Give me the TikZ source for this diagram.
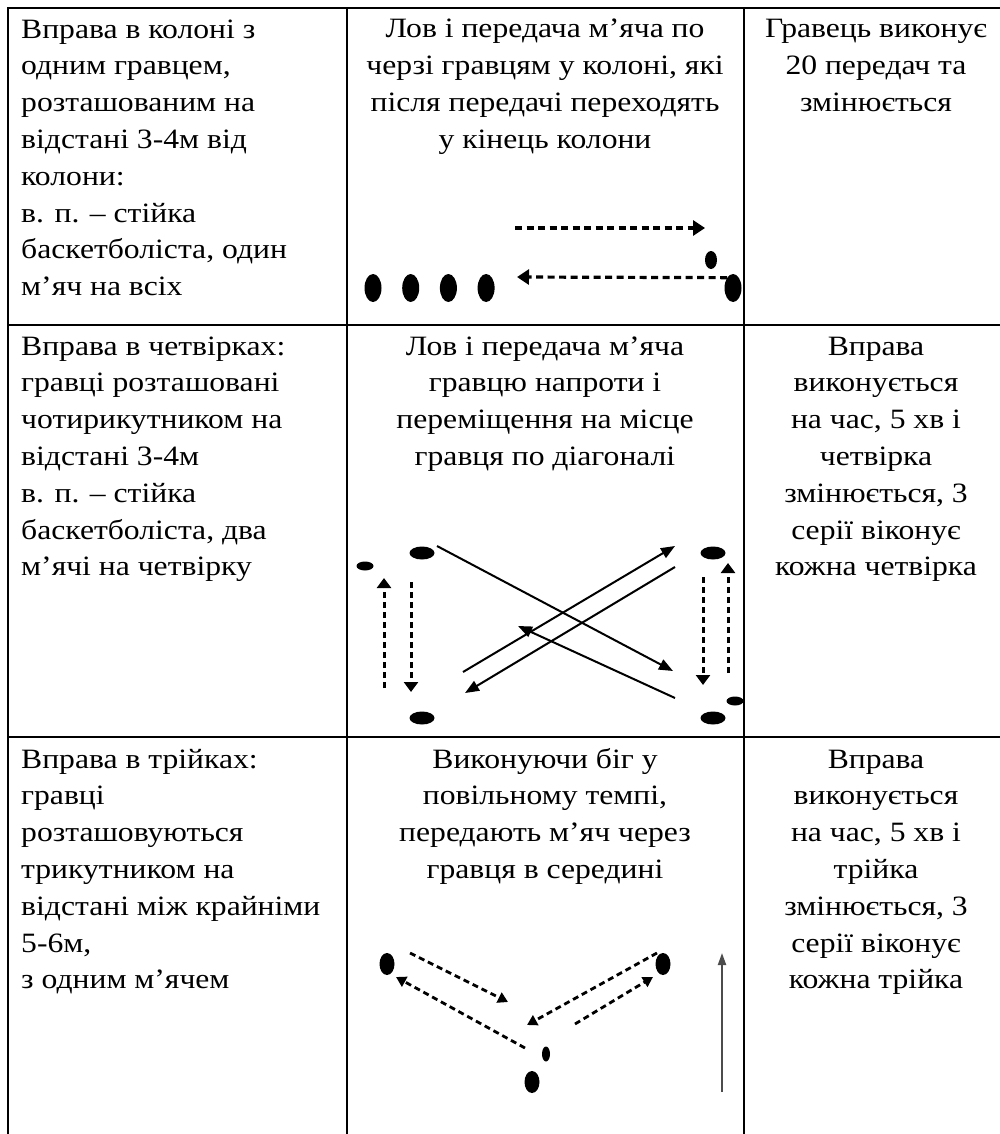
\documentclass[tikz,border=0pt]{standalone}
\usepackage{fontspec}
\setmainfont{Liberation Serif}[FakeStretch=1.13]
\usetikzlibrary{arrows.meta,shapes.geometric,positioning}

\begin{document}
\begin{tikzpicture}[x=1pt,y=-1pt,node distance=37.7pt,on grid,
    rule/.style={line width=2pt},
    cell/.style={inner sep=0pt,anchor=base,font=\fontsize{28}{36.8}\selectfont},
    player/.style={ellipse,fill=black,inner sep=0pt,minimum width=17pt,minimum height=28pt},
    ball/.style={ellipse,fill=black,inner sep=0pt,minimum width=12pt,minimum height=18pt},
    flat/.style={ellipse,fill=black,inner sep=0pt,minimum width=25pt,minimum height=13pt},
    flatball/.style={ellipse,fill=black,inner sep=0pt,minimum width=17pt,minimum height=9pt},
    tall/.style={ellipse,fill=black,inner sep=0pt,minimum width=15pt,minimum height=22pt},
    tallball/.style={ellipse,fill=black,inner sep=0pt,minimum width=8pt,minimum height=15pt},
    pass/.style={line width=3.2pt,dash pattern=on 7pt off 4.5pt,-{Triangle[length=12pt,width=15pt]}},
    swap/.style={line width=3pt,dash pattern=on 6pt off 4pt,-{Triangle[length=10pt,width=14pt]}},
    lob/.style={line width=2.8pt,dash pattern=on 6pt off 4pt,-{Triangle[length=10pt,width=11pt]}},
    throw/.style={line width=2pt,-{Triangle[length=14pt,width=11pt]}},
    run/.style={line width=2pt,color=black!70,-{Triangle[length=12pt,width=8pt]}}]

    \fill[white] (0,0) rectangle (1000,1134);
    \useasboundingbox (0,0) rectangle (1000,1134);
    \draw[rule] (1000,8) -- (8,8) -- (8,1134);
    \draw[rule] (8,325) -- (1000,325) (8,737) -- (1000,737);
    \draw[rule] (347,8) -- (347,1134) (744,8) -- (744,1134);

    \node[cell,align=left,anchor=base west] (task1) at (21,295.6) {Вправа в колоні з\\одним гравцем,\\розташованим на\\відстані 3-4м від\\колони:\\в. п. – стійка\\баскетболіста, один\\м’яч на всіх};
    \node[cell,align=center] (drill1) at (545,148.4) {Лов і передача м’яча по\\черзі гравцям у колоні, які\\після передачі переходять\\у кінець колони};
    \node[cell,align=center] (dose1) at (876,111.6) {Гравець виконує\\20 передач та\\змінюється};

    \node[cell,align=left,anchor=base west] (task2) at (21,575.8) {Вправа в четвірках:\\гравці розташовані\\чотирикутником на\\відстані 3-4м\\в. п. – стійка\\баскетболіста, два\\м’ячі на четвірку};
    \node[cell,align=center] (drill2) at (545,465.4) {Лов і передача м’яча\\гравцю напроти і\\переміщення на місце\\гравця по діагоналі};
    \node[cell,align=center] (dose2) at (876,575.8) {Вправа\\виконується\\на час, 5 хв і\\четвірка\\змінюється, 3\\серії віконує\\кожна четвірка};

    \node[cell,align=left,anchor=base west] (task3) at (21,988.8) {Вправа в трійках:\\гравці\\розташовуються\\трикутником на\\відстані між крайніми\\5-6м,\\з одним м’ячем};
    \node[cell,align=center] (drill3) at (545,878.4) {Виконуючи біг у\\повільному темпі,\\передають м’яч через\\гравця в середині};
    \node[cell,align=center] (dose3) at (876,988.8) {Вправа\\виконується\\на час, 5 хв і\\трійка\\змінюється, 3\\серії віконує\\кожна трійка};

    \node[player] (one) at (373,288) {};
    \node[player] (two) [right=of one] {};
    \node[player] (three) [right=of two] {};
    \node[player] (four) [right=of three] {};
    \node[player] (front) at (733,288) {};
    \node[ball] (ball) at (711,260) {};
    \coordinate (go) at (515,228);
    \coordinate (stop) at (705,228);
    \coordinate (back) at (517,277);

    \path[pass]
    (go) edge (stop)
    (front.120) edge (back);

    \node[flat] (nw) at (422,553) {};
    \node[flat] (sw) at (422,718) {};
    \node[flat] (ne) at (713,553) {};
    \node[flat] (se) at (713,718) {};
    \node[flatball] (lball) at (365,566) {};
    \node[flatball] (rball) at (735,701) {};
    \coordinate (a1) at (437,546);
    \coordinate (a2) at (673,671);
    \coordinate (b1) at (675,698);
    \coordinate (b2) at (518,626);
    \coordinate (c1) at (463,672);
    \coordinate (c2) at (675,546);
    \coordinate (d1) at (675,567);
    \coordinate (d2) at (465,693);
    \coordinate (lup1) at (384,688);
    \coordinate (lup2) at (384,578);
    \coordinate (ldown1) at (411,582);
    \coordinate (ldown2) at (411,692);
    \coordinate (rdown1) at (703,577);
    \coordinate (rdown2) at (703,685);
    \coordinate (rup1) at (728,673);
    \coordinate (rup2) at (728,563);

    \path[throw]
    (a1) edge (a2)
    (b1) edge (b2)
    (c1) edge (c2)
    (d1) edge (d2);
    \path[swap]
    (lup1) edge (lup2)
    (ldown1) edge (ldown2)
    (rdown1) edge (rdown2)
    (rup1) edge (rup2);

    \node[tall] (left) at (387,964) {};
    \node[tall] (right) at (663,964) {};
    \node[tall] (middle) at (532,1082) {};
    \node[tallball] (centre) at (546,1054) {};
    \coordinate (e1) at (410,953);
    \coordinate (e2) at (508,1002);
    \coordinate (f1) at (525,1048);
    \coordinate (f2) at (396,977);
    \coordinate (g1) at (657,953);
    \coordinate (g2) at (527,1025);
    \coordinate (h1) at (575,1024);
    \coordinate (h2) at (653,977);
    \coordinate (start) at (722,1092);
    \coordinate (finish) at (722,953);

    \path[lob]
    (e1) edge (e2)
    (f1) edge (f2)
    (g1) edge (g2)
    (h1) edge (h2);
    \path[run] (start) edge (finish);
\end{tikzpicture}
\end{document}
